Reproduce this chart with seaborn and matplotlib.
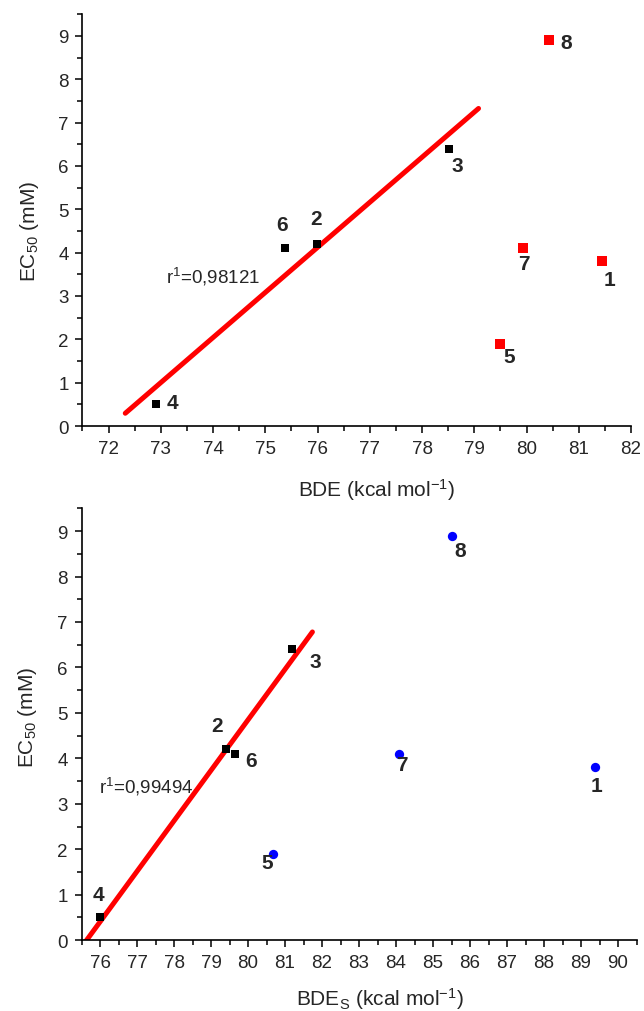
import numpy as np
import pandas as pd
import matplotlib
matplotlib.use('Agg')
import matplotlib.pyplot as plt
from matplotlib.ticker import MultipleLocator
import seaborn as sns

sns.set_style('ticks')
plt.rcParams['font.family'] = ['Liberation Sans', 'DejaVu Sans']
plt.rcParams['mathtext.default'] = 'regular'

# compounds 1-8
compound = ['1', '2', '3', '4', '5', '6', '7', '8']
bde = [81.45, 75.98, 78.51, 72.9, 79.5, 75.37, 79.93, 80.42]
bde_s = [89.39, 79.4, 81.19, 76.0, 80.68, 79.64, 84.09, 85.5]
ec50 = [3.8, 4.2, 6.4, 0.5, 1.9, 4.1, 4.1, 8.9]
in_fit = [False, True, True, True, False, True, False, False]

r_top = 'r$^1$=0,98121'
r_bottom = 'r$^1$=0,99494'
fit_range_top = [72.32, 79.08]
fit_range_bottom = [75.5, 81.74]

df = pd.DataFrame({'compound': compound, 'bde': bde, 'bde_s': bde_s,
                   'ec50': ec50, 'fit': in_fit})

# label offsets (points) so numbers sit next to their markers
off_top = {'1': (5, -13), '2': (0, 18), '3': (6, -12), '4': (12, 1.5),
           '5': (6, -9), '6': (-2, 17), '7': (1, -11), '8': (13, -2)}
off_bottom = {'1': (1, -13), '2': (-6, 17), '3': (17, -9), '4': (-1, 16.5),
              '5': (-4, -6), '6': (11.5, -5), '7': (2, -8), '8': (6.5, -11)}

fig = plt.figure(figsize=(6.44, 10.12), dpi=100)
ax1 = fig.add_axes([0.128, 0.578, 0.852, 0.407])
ax2 = fig.add_axes([0.1266, 0.070, 0.8618, 0.4267])


def draw(ax, xcol, fit_range, other_color, other_marker, offsets, rtext, rpos,
         xlim, xlabel, xlab_y, ylab_y):
    fit = df[df['fit']]
    rest = df[~df['fit']]
    sns.scatterplot(data=fit, x=xcol, y='ec50', ax=ax, color='black',
                    marker='s', s=40, linewidth=0, zorder=3)
    sns.scatterplot(data=rest, x=xcol, y='ec50', ax=ax, color=other_color,
                    marker=other_marker, s=45, linewidth=0, zorder=3)
    k, b = np.polyfit(fit[xcol], fit['ec50'], 1)
    lx = np.array(fit_range)
    sns.lineplot(x=lx, y=k * lx + b, ax=ax, color='#ff0000', linewidth=3.6,
                 zorder=2)
    for _, row in df.iterrows():
        ax.annotate(row['compound'], (row[xcol], row['ec50']),
                    xytext=offsets[row['compound']], textcoords='offset points',
                    ha='center', va='center', fontsize=15, fontweight='bold')
    ax.text(rpos[0], rpos[1], rtext, fontsize=13.5, va='center', ha='left')

    ax.set_xlim(*xlim)
    ax.set_ylim(0, 9.5)
    ax.xaxis.set_major_locator(MultipleLocator(1))
    ax.xaxis.set_minor_locator(MultipleLocator(0.5))
    ax.yaxis.set_major_locator(MultipleLocator(1))
    ax.yaxis.set_minor_locator(MultipleLocator(0.5))
    ax.tick_params(which='major', length=5, width=1.1, labelsize=13.5,
                   color='black', pad=5)
    ax.tick_params(which='minor', length=3.5, width=1.1, color='black')
    for s in ['left', 'bottom']:
        ax.spines[s].set_linewidth(1.2)
        ax.spines[s].set_color('black')
    sns.despine(ax=ax)
    ax.set_xlabel(xlabel, fontsize=15)
    ax.set_ylabel('EC$_{50}$ (mM)', fontsize=15)
    ax.xaxis.set_label_coords(0.537, xlab_y)
    ax.yaxis.set_label_coords(-0.076, ylab_y)


draw(ax1, 'bde', fit_range_top, '#ff0000', 's', off_top, r_top, (73.1, 3.46),
     (71.5, 82), 'BDE (kcal mol$^{-1}$)', -0.122, 0.476)
draw(ax2, 'bde_s', fit_range_bottom, '#0000ff', 'o', off_bottom, r_bottom,
     (75.96, 3.39), (75.5, 90.5), 'BDE$_S$ (kcal mol$^{-1}$)', -0.104, 0.518)

fig.savefig('out.png', dpi=100)
